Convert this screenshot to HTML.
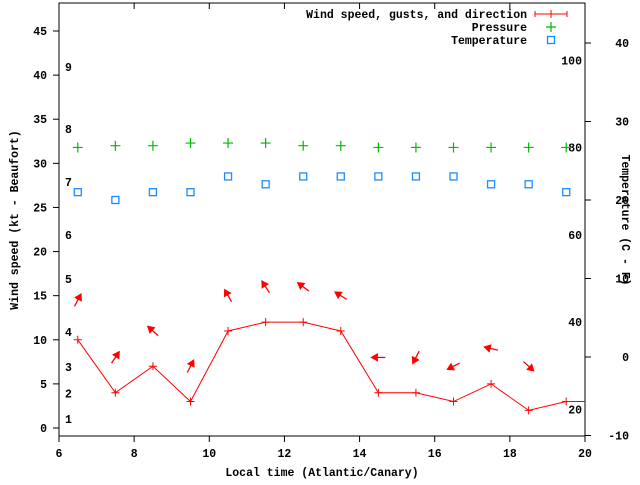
<!DOCTYPE html>
<html><head><meta charset="utf-8"><style>
html,body{margin:0;padding:0;background:#fff}
svg text{font-family:"Liberation Mono",monospace;font-weight:bold;font-size:11.5px;fill:#000}
</style></head><body>
<svg id="chart" width="640" height="480" xmlns="http://www.w3.org/2000/svg">
<g id="axes"></g>
<g id="marks"></g>
<g id="legend"></g>
</svg>
<script>
const hours=[6.5,7.5,8.5,9.5,10.5,11.5,12.5,13.5,14.5,15.5,16.5,17.5,18.5,19.5];
const windSpeed=[10,4,7,3,11,12,12,11,4,4,3,5,2,3];
const gustSpeed=[14.5,8,11,7,15,16,16,15,8,8,7,9,7];
const windDir=[62,56,138,63,120,123,143,148,180,243,207,167,318];
const pressure=[31.8,32.0,32.0,32.3,32.3,32.3,32.0,32.0,31.8,31.8,31.8,31.8,31.8,31.8];
const tempC=[21,20,21,21,23,22,23,23,23,23,23,22,22,21];
const xTicks=[6,8,10,12,14,16,18,20];
const yTicks=[0,5,10,15,20,25,30,35,40,45];
const y2Ticks=[-10,0,10,20,30,40];
const beaufort=[[1,1],[2,3.9],[3,6.9],[4,10.9],[5,16.9],[6,21.9],[7,27.9],[8,33.9],[9,40.9]];
const fahr=[20,40,60,80,100];

const L=59,R=585,T=3,B=436;
const X=v=>L+(v-6)*(R-L)/14;
const Y=v=>428-v*8.822;
const Y2=c=>357-c*7.85;
const NS="http://www.w3.org/2000/svg";
function mk(p,tag,a,txt){const e=document.createElementNS(NS,tag);for(const k in a)e.setAttribute(k,a[k]);if(txt!==undefined)e.textContent=txt;p.appendChild(e);return e;}
const ax=document.getElementById('axes'),mg=document.getElementById('marks'),lg=document.getElementById('legend');

let e=mk(ax,'rect',{x:L,y:T,width:R-L,height:B-T,fill:'none',stroke:'#000','stroke-width':1});

xTicks.forEach(t=>{
 mk(ax,'line',{x1:X(t),x2:X(t),y1:B,y2:B+6,stroke:'#000'});
 mk(ax,'line',{x1:X(t),x2:X(t),y1:T,y2:T+6,stroke:'#000'});
 e=mk(ax,'text',{x:X(t),y:B+21,'text-anchor':'middle'},String(t));
 
});
yTicks.forEach(t=>{
 mk(ax,'line',{x1:L-6,x2:L,y1:Y(t),y2:Y(t),stroke:'#000'});
 e=mk(ax,'text',{x:L-12,y:Y(t)+4,'text-anchor':'end'},String(t));
 
});
y2Ticks.forEach(t=>{
 mk(ax,'line',{x1:R,x2:R+6,y1:Y2(t),y2:Y2(t),stroke:'#000'});
 e=mk(ax,'text',{x:R+44,y:Y2(t)+4,'text-anchor':'end'},String(t));
 
});
beaufort.forEach(b=>{
 e=mk(ax,'text',{x:65,y:Y(b[1])+4},String(b[0]));
 
});
fahr.forEach(f=>{
 e=mk(ax,'text',{x:582,y:Y2((f-32)*5/9)+4,'text-anchor':'end'},String(f));
 
});
e=mk(ax,'text',{x:322,y:476,'text-anchor':'middle'},'Local time (Atlantic/Canary)');

e=mk(ax,'text',{x:0,y:0,'text-anchor':'middle',transform:'translate(18,220) rotate(-90)'},'Wind speed (kt - Beaufort)');

e=mk(ax,'text',{x:0,y:0,'text-anchor':'middle',transform:'translate(622,220) rotate(90)'},'Temperature (C - F)');


// wind line
let pts=hours.map((h,i)=>X(h)+','+Y(windSpeed[i]));
pts.push(R+','+Y(windSpeed[windSpeed.length-1]));
e=mk(mg,'polyline',{points:pts.join(' '),fill:'none',stroke:'#f00','stroke-width':1});

hours.forEach((h,i)=>{
 const x=X(h),y=Y(windSpeed[i]);
 e=mk(mg,'path',{d:`M${x-4},${y}h8M${x},${y-4}v8`,stroke:'#f00','stroke-width':1});
 
});
gustSpeed.forEach((g,i)=>{
 const cx=X(hours[i]),cy=Y(g),a=windDir[i]*Math.PI/180,len=14;
 const dx=Math.cos(a),dy=-Math.sin(a);
 const tx=cx-dx*len/2,ty=cy-dy*len/2,hx=cx+dx*len/2,hy=cy+dy*len/2;
 const px=-dy,py=dx;
 const bx=hx-dx*6,by=hy-dy*6;
 const grp=mk(mg,'g',{});
 
 
 mk(grp,'line',{x1:tx,y1:ty,x2:hx,y2:hy,stroke:'#f00','stroke-width':1.3});
 mk(grp,'polygon',{points:`${hx},${hy} ${bx+px*3.5},${by+py*3.5} ${bx-px*3.5},${by-py*3.5}`,fill:'#f00',stroke:'#f00'});
});
pressure.forEach((p,i)=>{
 const x=X(hours[i]),y=Y(p);
 e=mk(mg,'path',{d:`M${x-5},${y}h10M${x},${y-5}v10`,stroke:'#0b0','stroke-width':1.2});
 
});
tempC.forEach((t,i)=>{
 const x=X(hours[i]),y=Y2(t);
 e=mk(mg,'rect',{x:x-3.5,y:y-3.5,width:7,height:7,fill:'none',stroke:(i==1||i==4||i>=6&&i!=9&&i!=12)?'#1a8cff':'#1a8cff','stroke-width':1.3});
 
});

// legend
const lx=527;
e=mk(lg,'text',{x:lx,y:18,'text-anchor':'end'},'Wind speed, gusts, and direction');

mk(lg,'path',{d:'M535,14h32M535,11v6M567,11v6M551,10v8',stroke:'#f00','stroke-width':1});
e=mk(lg,'text',{x:lx,y:31,'text-anchor':'end'},'Pressure');

mk(lg,'path',{d:'M546,27h10M551,22v10',stroke:'#0b0','stroke-width':1.2});
e=mk(lg,'text',{x:lx,y:44,'text-anchor':'end'},'Temperature');

mk(lg,'rect',{x:547.5,y:36.5,width:7,height:7,fill:'none',stroke:'#1a8cff','stroke-width':1.3});
</script>
</body></html>
